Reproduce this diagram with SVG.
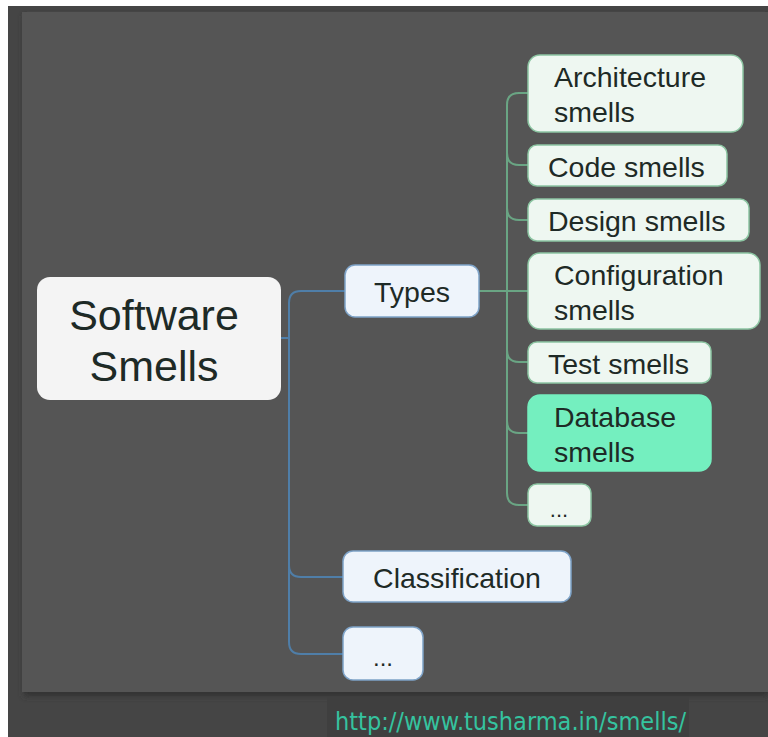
<svg xmlns="http://www.w3.org/2000/svg" width="768" height="737" viewBox="0 0 768 737">
<defs>
<style>
.t{font-family:"Liberation Sans",Arial,sans-serif;fill:#1e2a26}
.g{font-size:28.5px}
.blue{fill:#eef4fb;stroke:#7ea3c8;stroke-width:1.5}
.green{fill:#eef7f1;stroke:#8cc5a2;stroke-width:1.5}
.cb{fill:none;stroke:#4f7ea8;stroke-width:2}
.cg{fill:none;stroke:#6aa584;stroke-width:2}
</style>
<filter id="sh" x="-5%" y="-5%" width="110%" height="110%"><feGaussianBlur stdDeviation="3"/></filter>
</defs>
<rect width="768" height="737" fill="#ffffff"/>
<rect x="8" y="6" width="760" height="731" fill="#454545"/>
<rect x="24" y="16" width="744" height="680" fill="#333" filter="url(#sh)"/>
<rect x="22" y="12" width="746" height="680" fill="#555555"/>
<rect x="327" y="697" width="362" height="40" fill="#3f3f3f"/>
<text x="335" y="730" font-family="'DejaVu Sans Condensed','DejaVu Sans',sans-serif" font-size="25" fill="#35c39f" textLength="351" lengthAdjust="spacingAndGlyphs">http://www.tusharma.in/smells/</text>

<g id="connectors">
<path class="cb" d="M281 338 H289"/>
<path class="cb" d="M345 291 H301 Q289 291 289 303 V642 Q289 654 301 654 H343"/>
<path class="cb" d="M289 565 Q289 577 301 577 H343"/>
<path class="cg" d="M479 291 H528"/>
<path class="cg" d="M528 93 H519 Q507 93 507 105 V493 Q507 505 519 505 H528"/>
<path class="cg" d="M507 153 Q507 165 519 165 H528"/>
<path class="cg" d="M507 208 Q507 220 519 220 H528"/>
<path class="cg" d="M507 350 Q507 362 519 362 H528"/>
<path class="cg" d="M507 421 Q507 433 519 433 H528"/>
</g>

<g id="software-smells">
<rect x="37" y="277" width="244" height="123" rx="13" fill="#f4f4f4"/>
<text class="t" x="154" y="330" font-size="43" text-anchor="middle">Software</text>
<text class="t" x="154" y="381" font-size="43" text-anchor="middle">Smells</text>
</g>
<g id="types">
<rect class="blue" x="345" y="265" width="134" height="52" rx="10"/>
<text class="t g" x="412" y="302" text-anchor="middle">Types</text>
</g>
<g id="classification">
<rect class="blue" x="343" y="551" width="228" height="51" rx="10"/>
<text class="t g" x="457" y="588" text-anchor="middle">Classification</text>
</g>
<g id="more1">
<rect class="blue" x="343" y="627" width="80" height="53" rx="10"/>
<text class="t" x="383" y="666" font-size="24" text-anchor="middle">...</text>
</g>

<g id="architecture">
<rect class="green" x="528" y="55" width="215" height="77" rx="12"/>
<text class="t g" x="554" y="87">Architecture</text>
<text class="t g" x="554" y="122">smells</text>
</g>
<g id="code">
<rect class="green" x="528" y="145" width="199" height="41" rx="9"/>
<text class="t g" x="548" y="177">Code smells</text>
</g>
<g id="design">
<rect class="green" x="528" y="199" width="221" height="42" rx="9"/>
<text class="t g" x="548" y="231">Design smells</text>
</g>
<g id="configuration">
<rect class="green" x="528" y="253" width="232" height="76" rx="12"/>
<text class="t g" x="554" y="285">Configuration</text>
<text class="t g" x="554" y="320">smells</text>
</g>
<g id="test">
<rect class="green" x="528" y="342" width="183" height="41" rx="9"/>
<text class="t g" x="548" y="374">Test smells</text>
</g>
<g id="database">
<rect x="528" y="395" width="183" height="76" rx="12" fill="#74efbf" stroke="#74efbf" stroke-width="1.5"/>
<text class="t g" x="554" y="427">Database</text>
<text class="t g" x="554" y="462">smells</text>
</g>
<g id="more2">
<rect class="green" x="528" y="484" width="63" height="42" rx="9"/>
<text class="t" x="559" y="517" font-size="22" text-anchor="middle">...</text>
</g>
</svg>
